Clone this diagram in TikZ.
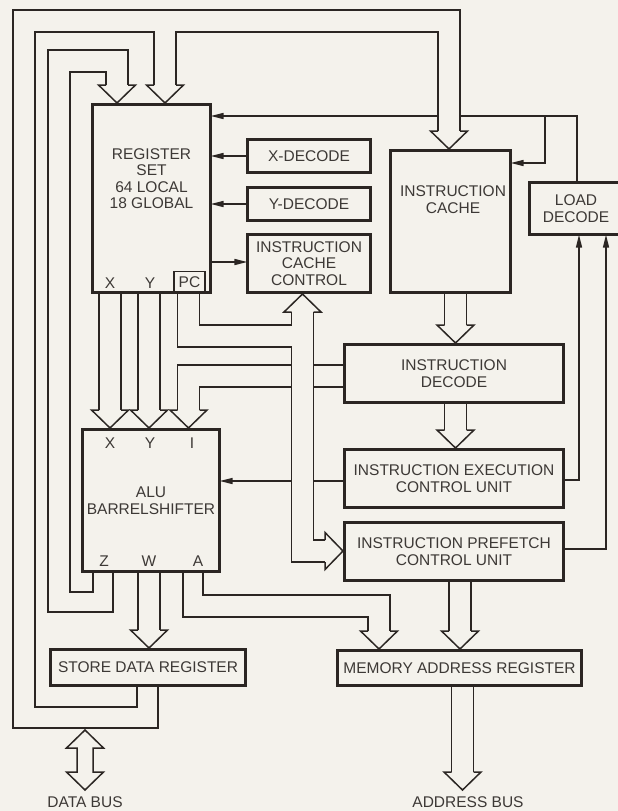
\documentclass[tikz,border=0pt]{standalone}
\usepackage{fontspec}
\setmainfont{Liberation Sans}
\usetikzlibrary{positioning, arrows.meta, calc}
\definecolor{Ink}{HTML}{2B2623}
\definecolor{TextGray}{HTML}{3D3936}
\definecolor{Paper}{HTML}{F4F2EC}

\begin{document}
\begin{tikzpicture}[
  x=1pt, y=-1pt,
  box/.style={draw=Ink, line width=2.8pt, outer sep=0pt, inner sep=0pt,
              align=center, text=TextGray, font=\fontsize{15.5}{16.5}\selectfont},
  lbl/.style={inner sep=0pt, align=center, text=TextGray, font=\fontsize{15.5}{16.5}\selectfont},
  wire/.style={draw=Ink, line width=1.5pt, line join=miter},
  ctl/.style={wire, -{Triangle[length=13pt, width=6pt]}},
  pics/headdown/.style={code={\draw[wire] (-11,-18) -- (-18.5,-18) -- (0,0) -- (18.5,-18) -- (11,-18);}},
  pics/headup/.style={code={\draw[wire] (-11,18) -- (-18.5,18) -- (0,0) -- (18.5,18) -- (11,18);}},
  pics/headright/.style={code={\draw[wire] (-18,-11) -- (-18,-18.5) -- (0,0) -- (-18,18.5) -- (-18,11);}},
]
  \fill[Paper] (0,0) rectangle (618,811);
  \clip (0,0) rectangle (618,811);

  \node[box, minimum width=118.2pt, minimum height=188.2pt] (reg) at (151.5,198.5) {};
  \node[lbl] (regtxt) at (151.5,178.5) {REGISTER\\SET\\64 LOCAL\\18 GLOBAL};
  \node[box, line width=1.5pt, minimum width=31pt, minimum height=21pt, anchor=south east] (pc) at (205,292.6) {PC};
  \node[lbl] (regx) at (110,283) {X};
  \node[lbl] (regy) at (150,283) {Y};

  \node[box, minimum width=123.2pt, minimum height=33.2pt] (xdec) at (309,156) {X-DECODE};
  \node[box, minimum width=123.2pt, minimum height=33.2pt, below=14.8pt of xdec] (ydec) {Y-DECODE};
  \node[box, minimum width=123.2pt, minimum height=58.2pt, below=13.8pt of ydec] (icc) {INSTRUCTION\\CACHE\\CONTROL};

  \node[box, minimum width=120.2pt, minimum height=142.2pt] (icache) at (450.5,221.5) {};
  \node[lbl] (ictxt) at (453,199.5) {INSTRUCTION\\CACHE};
  \node[box, minimum width=93.2pt, minimum height=52.2pt] (ld) at (576,208.5) {LOAD\\DECODE};

  \node[box, minimum width=219.2pt, minimum height=58.2pt] (id) at (454,373.5) {INSTRUCTION\\DECODE};
  \node[box, minimum width=219.2pt, minimum height=58.2pt, below=46.8pt of id] (ecu) {INSTRUCTION EXECUTION\\CONTROL UNIT};
  \node[box, minimum width=219.2pt, minimum height=58.2pt, below=14.8pt of ecu] (pcu) {INSTRUCTION PREFETCH\\CONTROL UNIT};

  \node[box, minimum width=137.2pt, minimum height=142.2pt] (alu) at (151,500.5) {ALU\\BARRELSHIFTER};
  \node[lbl] (alux) at (110,443) {X};
  \node[lbl] (aluy) at (150,443) {Y};
  \node[lbl] (alui) at (192,443) {I};
  \node[lbl] (aluz) at (104,561) {Z};
  \node[lbl] (aluw) at (149,561) {W};
  \node[lbl] (alua) at (198,561) {A};

  \node[box, minimum width=195.2pt, minimum height=36.2pt] (sdr) at (148,667.5) {STORE DATA REGISTER};
  \node[box, minimum width=244.2pt, minimum height=35.2pt] (mar) at (459.5,668) {MEMORY ADDRESS REGISTER};

  \node[lbl] (dbus) at (85,802.5) {DATA BUS};
  \node[lbl] (abus) at (468,802.5) {ADDRESS BUS};

  % store data bus back to register set and cache
  \draw[wire] (158,0 |- sdr.south) -- (158,728) -- (13,728) -- (13,10) -- (460,10) -- (460,131);
  \draw[wire] (137,0 |- sdr.south) -- (137,707) -- (35,707) -- (35,32) -- (154,32) -- (154,85);
  \draw[wire] (176,85) -- (176,32) -- (438,32) -- (438,131);
  \pic at (165,103) {headdown};
  \pic at (449,149) {headdown};

  % Z bus
  \draw[wire] (93,0 |- alu.south) -- (93,592) -- (70,592) -- (70,72) -- (106,72) -- (106,85);
  \draw[wire] (113,0 |- alu.south) -- (113,612) -- (48,612) -- (48,50) -- (128,50) -- (128,85);
  \pic at (117,103) {headdown};

  % X and Y buses
  \draw[wire] (99,0 |- reg.south) -- (99,410);
  \draw[wire] (121,0 |- reg.south) -- (121,410);
  \pic at (110,428) {headdown};
  \draw[wire] (138,0 |- reg.south) -- (138,410);
  \draw[wire] (160,0 |- reg.south) -- (160,410);
  \pic at (149,428) {headdown};

  % I bus
  \draw[wire] (291.5,365) -- (177.5,365) -- (177.5,410);
  \draw[wire] (291.5,387) -- (199.5,387) -- (199.5,410);
  \draw[wire] (313.5,365) -- (id.west |- 0,365);
  \draw[wire] (313.5,387) -- (id.west |- 0,387);
  \pic at (188.5,428) {headdown};

  % PC bus
  \draw[wire] (177.5,0 |- pc.south) -- (177.5,347) -- (291.5,347) -- (291.5,562) -- (325,562);
  \draw[wire] (199.5,0 |- pc.south) -- (199.5,325) -- (291.5,325) -- (291.5,312);
  \draw[wire] (313.5,312) -- (313.5,540) -- (325,540);
  \pic at (302.5,294) {headup};
  \pic at (343,551) {headright};

  % W and A buses
  \draw[wire] (138,0 |- alu.south) -- (138,630);
  \draw[wire] (160,0 |- alu.south) -- (160,630);
  \pic at (149,648) {headdown};
  \draw[wire] (183,0 |- alu.south) -- (183,617) -- (368,617) -- (368,631);
  \draw[wire] (203,0 |- alu.south) -- (203,595) -- (390,595) -- (390,631);
  \pic at (379,649) {headdown};

  % instruction path
  \draw[wire] (444.5,0 |- icache.south) -- (444.5,325);
  \draw[wire] (466.5,0 |- icache.south) -- (466.5,325);
  \pic at (455.5,343) {headdown};
  \draw[wire] (444.5,0 |- id.south) -- (444.5,430);
  \draw[wire] (466.5,0 |- id.south) -- (466.5,430);
  \pic at (455.5,448) {headdown};
  \draw[wire] (449,0 |- pcu.south) -- (449,631);
  \draw[wire] (471,0 |- pcu.south) -- (471,631);
  \pic at (460,649) {headdown};
  \draw[wire] (451.5,0 |- mar.south) -- (451.5,772);
  \draw[wire] (473.5,0 |- mar.south) -- (473.5,772);
  \pic at (462.5,790) {headdown};

  % data bus
  \draw[wire] (77,748) -- (66.5,748) -- (85,730) -- (103.5,748) -- (93,748) -- (93,772)
    -- (103.5,772) -- (85,790) -- (66.5,772) -- (77,772) -- cycle;

  % control lines
  \draw[ctl] (xdec.west) -- (reg.east |- xdec.west);
  \draw[ctl] (ydec.west) -- (reg.east |- ydec.west);
  \draw[ctl] (reg.east |- 0,262) -- (icc.west |- 0,262);
  \draw[wire] (ecu.west |- 0,481) -- (313.5,481);
  \draw[ctl] (291.5,481) -- (alu.east |- 0,481);
  \draw[wire] (577,0 |- ld.north) -- (577,116) -- (460,116);
  \draw[ctl] (438,116) -- (reg.east |- 0,116);
  \draw[ctl] (545,116) -- (545,163) -- (icache.east |- 0,163);
  \draw[ctl] (ecu.east |- 0,480) -- (579,480) -- (579,0 |- ld.south);
  \draw[ctl] (pcu.east |- 0,549) -- (606,549) -- (606,0 |- ld.south);
\end{tikzpicture}
\end{document}
